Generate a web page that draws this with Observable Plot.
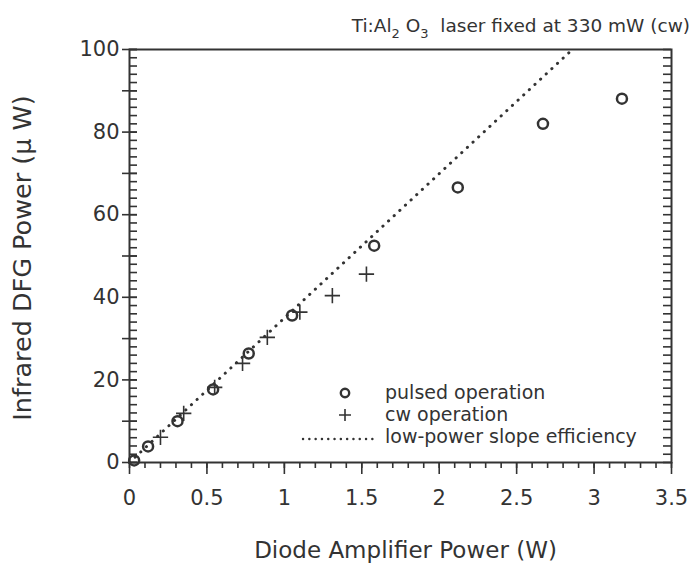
<!DOCTYPE html>
<html>
<head>
<meta charset="utf-8">
<script src="https://cdn.jsdelivr.net/npm/d3@7"></script>
<script src="https://cdn.jsdelivr.net/npm/@observablehq/plot@0.6"></script>
<style>
  html, body { margin: 0; padding: 0; background: #fff; }
  #wrap { position: relative; width: 695px; height: 566px; font-family: "DejaVu Sans", sans-serif; color: #333; }
  #title { position: absolute; right: 5px; top: 15px; font-size: 18.5px; white-space: nowrap; }
  #title sub { font-size: 13px; vertical-align: -6px; line-height: 0; }
</style>
</head>
<body>
<div id="wrap">
  <div id="title">Ti:Al<sub>2</sub> O<sub>3</sub>&nbsp; laser fixed at 330 mW (cw)</div>
</div>
<script>
// pulsed operation (W, µW)
const pulsedX = [0.03, 0.12, 0.31, 0.54, 0.77, 1.05, 1.58, 2.12, 2.67, 3.18];
const pulsedY = [0.5, 3.9, 10.0, 17.7, 26.4, 35.6, 52.5, 66.6, 82.0, 88.1];
// cw operation
const cwX = [0.20, 0.35, 0.55, 0.73, 0.89, 1.10, 1.31, 1.53];
const cwY = [6.1, 11.9, 18.2, 24.0, 30.3, 36.4, 40.4, 45.6];
// low-power slope efficiency line endpoints
const slopeX = [0, 2.86];
const slopeY = [0, 100];

const xTickLabels = [0, 0.5, 1, 1.5, 2, 2.5, 3, 3.5];
const yTickLabels = [0, 20, 40, 60, 80, 100];
const xTitle = "Diode Amplifier Power (W)";
const yTitle = "Infrared DFG Power (\u00b5 W)";
const legendLabels = ["pulsed operation", "cw operation", "low-power slope efficiency"];

const pulsed = pulsedX.map((x, i) => ({x, y: pulsedY[i]}));
const cw = cwX.map((x, i) => ({x, y: cwY[i]}));
const slope = slopeX.map((x, i) => ({x, y: slopeY[i]}));

const ink = "#333";
const font = "DejaVu Sans, sans-serif";
const W = 695, H = 566, mL = 129, mR = 24, mT = 49, mB = 104;
const fw = W - mL - mR, fh = H - mT - mB;
const xMinor = d3.range(0, 36).map(i => i / 10);
const yMinor = d3.range(0, 51).map(i => i * 2);
const yMajor = d3.range(0, 11).map(i => i * 10);

function legend(index, scales, values, dims) {
  const g = d3.create("svg:g");
  const x0 = dims.marginLeft + 216;
  const y0 = dims.height - dims.marginBottom - 69;
  const dy = 22;
  g.append("circle").attr("cx", x0).attr("cy", y0).attr("r", 4.2)
    .attr("fill", "none").attr("stroke", ink).attr("stroke-width", 2.4);
  g.append("path").attr("d", `M${x0-6},${y0+dy}h12M${x0},${y0+dy-6}v12`)
    .attr("stroke", ink).attr("stroke-width", 1.6).attr("fill", "none");
  g.append("line").attr("x1", x0 - 42).attr("x2", x0 + 28)
    .attr("y1", y0 + 2 * dy + 2).attr("y2", y0 + 2 * dy + 2)
    .attr("stroke", ink).attr("stroke-width", 2.4)
    .attr("stroke-dasharray", "0.1,6.2").attr("stroke-linecap", "round");
  legendLabels.forEach((t, i) => {
    g.append("text").attr("x", x0 + 40).attr("y", y0 + i * dy + 6)
      .attr("text-anchor", "start")
      .attr("font-size", 19).attr("fill", ink)
      .attr("font-family", font).text(t);
  });
  return g.node();
}

const chart = Plot.plot({
  width: W,
  height: H,
  marginLeft: mL,
  marginRight: mR,
  marginTop: mT,
  marginBottom: mB,
  style: {fontFamily: font, color: ink, background: "#fff"},
  x: {domain: [0, 3.5], axis: null},
  y: {domain: [0, 100], axis: null},
  marks: [
    // bottom axis ticks (outward)
    Plot.tickX(xMinor, {x: d => d, insetTop: fh, insetBottom: -6, stroke: ink, strokeWidth: 1.6}),
    Plot.tickX(xTickLabels, {x: d => d, insetTop: fh, insetBottom: -12, stroke: ink, strokeWidth: 1.6}),
    // left axis ticks: minor inward, major both sides
    Plot.tickY(yMinor, {y: d => d, insetLeft: 0, insetRight: fw - 8, stroke: ink, strokeWidth: 1.6}),
    Plot.tickY(yMajor, {y: d => d, insetLeft: -7, insetRight: fw - 8, stroke: ink, strokeWidth: 1.6}),
    // right axis ticks inward
    Plot.tickY(yMinor, {y: d => d, insetLeft: fw - 8, insetRight: 0, stroke: ink, strokeWidth: 1.6}),
    // tick labels
    Plot.text(xTickLabels, {x: d => d, frameAnchor: "bottom", dy: 36, text: d => String(d),
      fontSize: 21, fill: ink, lineAnchor: "middle"}),
    Plot.text(yTickLabels, {y: d => d, frameAnchor: "left", dx: -10, text: d => String(d),
      fontSize: 21, fill: ink, textAnchor: "end", lineAnchor: "middle"}),
    // axis titles
    Plot.text([xTitle], {frameAnchor: "bottom", dx: 5, dy: 88, text: d => d, fontSize: 23,
      fill: ink, textAnchor: "middle", lineAnchor: "middle"}),
    Plot.text([yTitle], {frameAnchor: "left", dx: -107, dy: 2, text: d => d, rotate: -90, fontSize: 25.5,
      fill: ink, textAnchor: "middle", lineAnchor: "middle"}),
    Plot.frame({stroke: ink, strokeWidth: 2}),
    Plot.line(slope, {x: "x", y: "y", stroke: ink, strokeWidth: 3, strokeDasharray: "0.1,7.6", strokeLinecap: "round"}),
    Plot.dot(pulsed, {x: "x", y: "y", r: 5, stroke: ink, strokeWidth: 2.5, fill: "none"}),
    Plot.dot(cw, {x: "x", y: "y", symbol: "plus", r: 5, stroke: ink, strokeWidth: 1.6}),
    legend
  ]
});

document.getElementById("wrap").appendChild(chart);
</script>
</body>
</html>
